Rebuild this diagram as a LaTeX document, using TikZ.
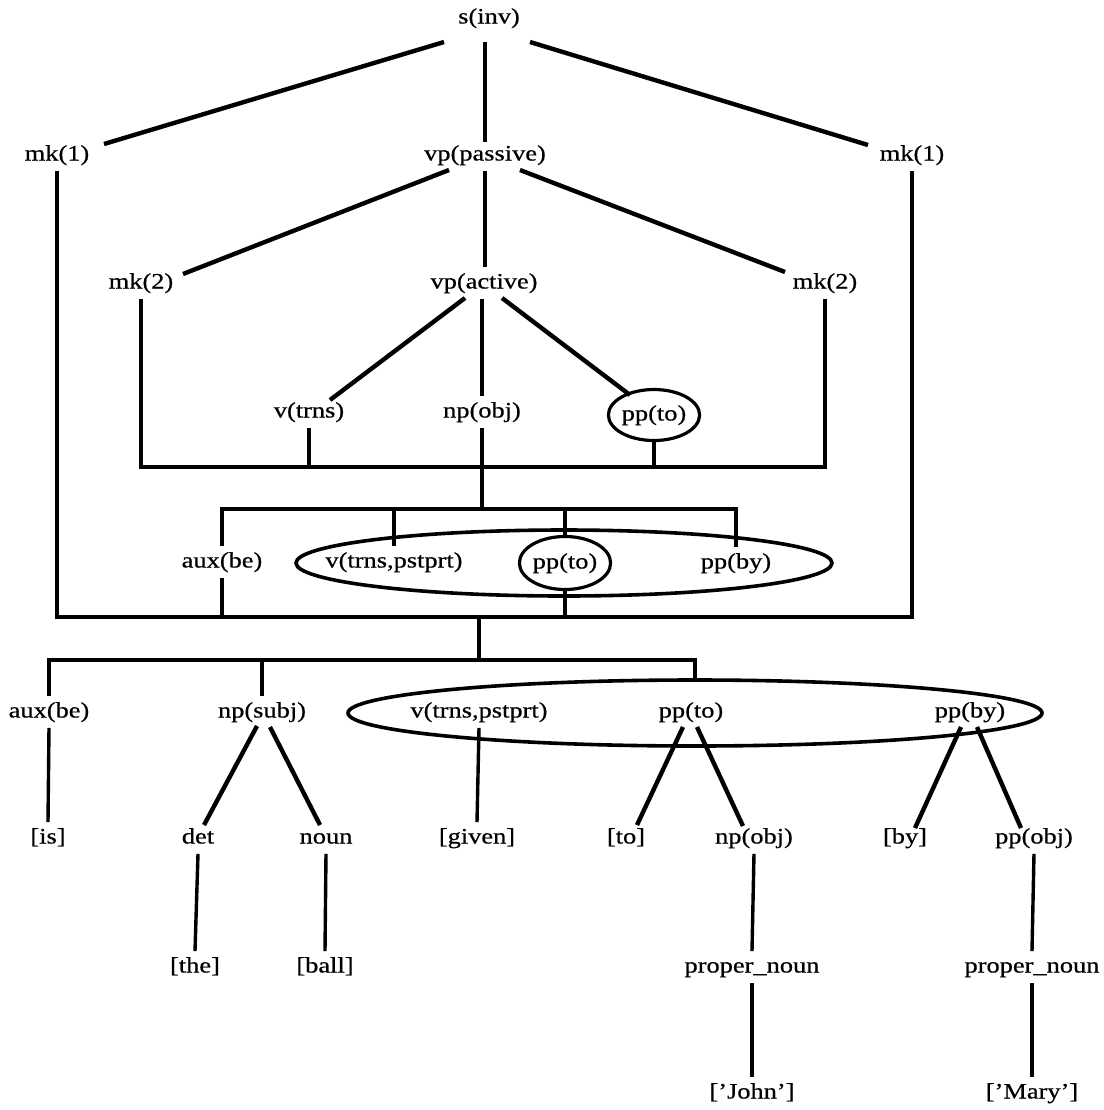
\documentclass[tikz,border=0pt]{standalone}
\usepackage{fontspec}
\setmainfont{Liberation Serif}[FakeStretch=1.2,FakeBold=0.6]
\usetikzlibrary{shapes.geometric,calc}
\begin{document}
\begin{tikzpicture}[x=0.5pt,y=-0.5pt,
  lbl/.style={inner sep=3pt,font=\fontsize{11pt}{13pt}\selectfont,text height=7.5pt,text depth=2pt},
  ring/.style={lbl,ellipse,draw,line width=1.6pt,inner sep=0pt,minimum width=39pt,minimum height=25.5pt},
  group/.style={ellipse,draw,line width=1.8pt,inner sep=0pt},
  edge/.style={line width=2.2pt},
  stem/.style={line width=1.7pt},
  bar/.style={line width=2.2pt,line join=miter}]
\fill[white] (0,0) rectangle (1104,1110);
\useasboundingbox (0,0) rectangle (1104,1110);
% nodes
\node[lbl] (sinv) at (489,18) {s(inv)};
\node[lbl] (mkA) at (57,155) {mk(1)};
\node[lbl] (vpp) at (485,155) {vp(passive)};
\node[lbl] (mkB) at (912,155) {mk(1)};
\node[lbl] (mk2A) at (141,283) {mk(2)};
\node[lbl] (vpa) at (484,283) {vp(active)};
\node[lbl] (mk2B) at (825,283) {mk(2)};
\node[lbl] (vtrns) at (309,412) {v(trns)};
\node[lbl] (npobj) at (482,412) {np(obj)};
\node[ring] (ppto) at (654,415) {pp(to)};
\node[group,minimum width=268pt,minimum height=33pt] (ellA) at (564,563) {};
\node[lbl] (auxA) at (222,562) {aux(be)};
\node[lbl] (vtp) at (394,562) {v(trns,pstprt)};
\node[ring,minimum height=26.5pt] (ppto2) at (565,563) {pp(to)};
\node[lbl] (ppby) at (736,563) {pp(by)};
\node[group,minimum width=347pt,minimum height=33pt] (ellB) at (695,713) {};
\node[lbl] (auxB) at (49,712) {aux(be)};
\node[lbl] (npsubj) at (262,712) {np(subj)};
\node[lbl] (vtp2) at (479,712) {v(trns,pstprt)};
\node[lbl] (ppto3) at (691,712) {pp(to)};
\node[lbl] (ppby3) at (970,712) {pp(by)};
\node[lbl] (is) at (48,838) {[is]};
\node[lbl] (det) at (198,838) {det};
\node[lbl] (noun) at (326,838) {noun};
\node[lbl] (given) at (477,838) {[given]};
\node[lbl] (to) at (626,838) {[to]};
\node[lbl] (npobj2) at (754,838) {np(obj)};
\node[lbl] (by) at (905,838) {[by]};
\node[lbl] (ppobj) at (1034,838) {pp(obj)};
\node[lbl] (the) at (195,967) {[the]};
\node[lbl] (ball) at (325,967) {[ball]};
\node[lbl] (pn1) at (752,967) {proper\_noun};
\node[lbl] (pn2) at (1032,967) {proper\_noun};
\node[lbl] (john) at (752,1093) {['John']};
\node[lbl] (mary) at (1032,1093) {['Mary']};
% bar junctions
\coordinate (b1) at (482,467);
\coordinate (b2) at (482,509);
\coordinate (b3) at (479,617);
\coordinate (b4) at (479,660);
% top level
\draw[edge] ($(sinv)+(-45,24)$) -- ($(mkA)+(47,-11)$);
\draw[stem] ($(vpp.north |- sinv.south)+(0,8)$) -- ($(vpp)+(0,-13)$);
\draw[edge] ($(sinv)+(41,24)$) -- ($(mkB)+(-44,-10)$);
\draw[edge] ($(vpp)+(-36,15)$) -- ($(mk2A)+(42,-9)$);
\draw[stem] (vpp.south) -- (vpp.south |- vpa.north);
\draw[edge] ($(vpp)+(35,15)$) -- ($(mk2B)+(-40,-11)$);
\draw[edge] ($(vpa)+(-19,15)$) -- ($(vtrns)+(21,-12)$);
\draw[stem] (npobj.north |- vpa.south) -- (npobj.north);
\draw[edge] ($(vpa)+(18,15)$) -- ($(ppto)+(-24,-20)$);
% bar 1
\draw[bar] (mk2A.south) -- (mk2A.south |- b1) -- (mk2B.south |- b1) -- (mk2B.south);
\draw[stem] (vtrns.south) -- (vtrns.south |- b1);
\draw[stem] (ppto.south) -- (ppto.south |- b1);
\draw[stem] (npobj.south) -- (b2);
% bar 2
\draw[bar] (auxA.north) -- (auxA.north |- b2) -- (ppby.north |- b2) -- (ppby.north);
\draw[stem] (vtp.north) -- (vtp.north |- b2);
\draw[stem] (ppto2.north) -- (ppto2.north |- b2);
% bar 3 (big box)
\draw[bar] (mkA.south) -- (mkA.south |- b3) -- (mkB.south |- b3) -- (mkB.south);
\draw[stem] (auxA.south) -- (auxA.south |- b3);
\draw[stem] (ppto2.south) -- (ppto2.south |- b3);
\draw[stem] (b3) -- (b4);
% bar 4
\draw[bar] (auxB.north) -- (auxB.north |- b4) -- (ellB.north |- b4) -- (ellB.north);
\draw[stem] (npsubj.north) -- (npsubj.north |- b4);
% lower tree
\draw[stem] (auxB.south) -- (is.north);
\draw[edge] ($(npsubj)+(-5,14)$) -- ($(det)+(6,-13)$);
\draw[edge] ($(npsubj)+(8,15)$) -- ($(noun)+(-6,-13)$);
\draw[stem] (vtp2.south) -- (given.north);
\draw[edge] ($(ppto3)+(-8,15)$) -- ($(to)+(11,-13)$);
\draw[edge] ($(ppto3)+(6,15)$) -- ($(npobj2)+(-11,-12)$);
\draw[edge] ($(ppby3)+(-9,15)$) -- ($(by)+(10,-10)$);
\draw[edge] ($(ppby3)+(7,15)$) -- ($(ppobj)+(-13,-10)$);
\draw[stem] (det.south) -- (the.north);
\draw[stem] (noun.south) -- (ball.north);
\draw[stem] (npobj2.south) -- (pn1.north);
\draw[stem] (ppobj.south) -- (pn2.north);
\draw[stem] (pn1.south) -- (john.north);
\draw[stem] (pn2.south) -- (mary.north);
\end{tikzpicture}
\end{document}
